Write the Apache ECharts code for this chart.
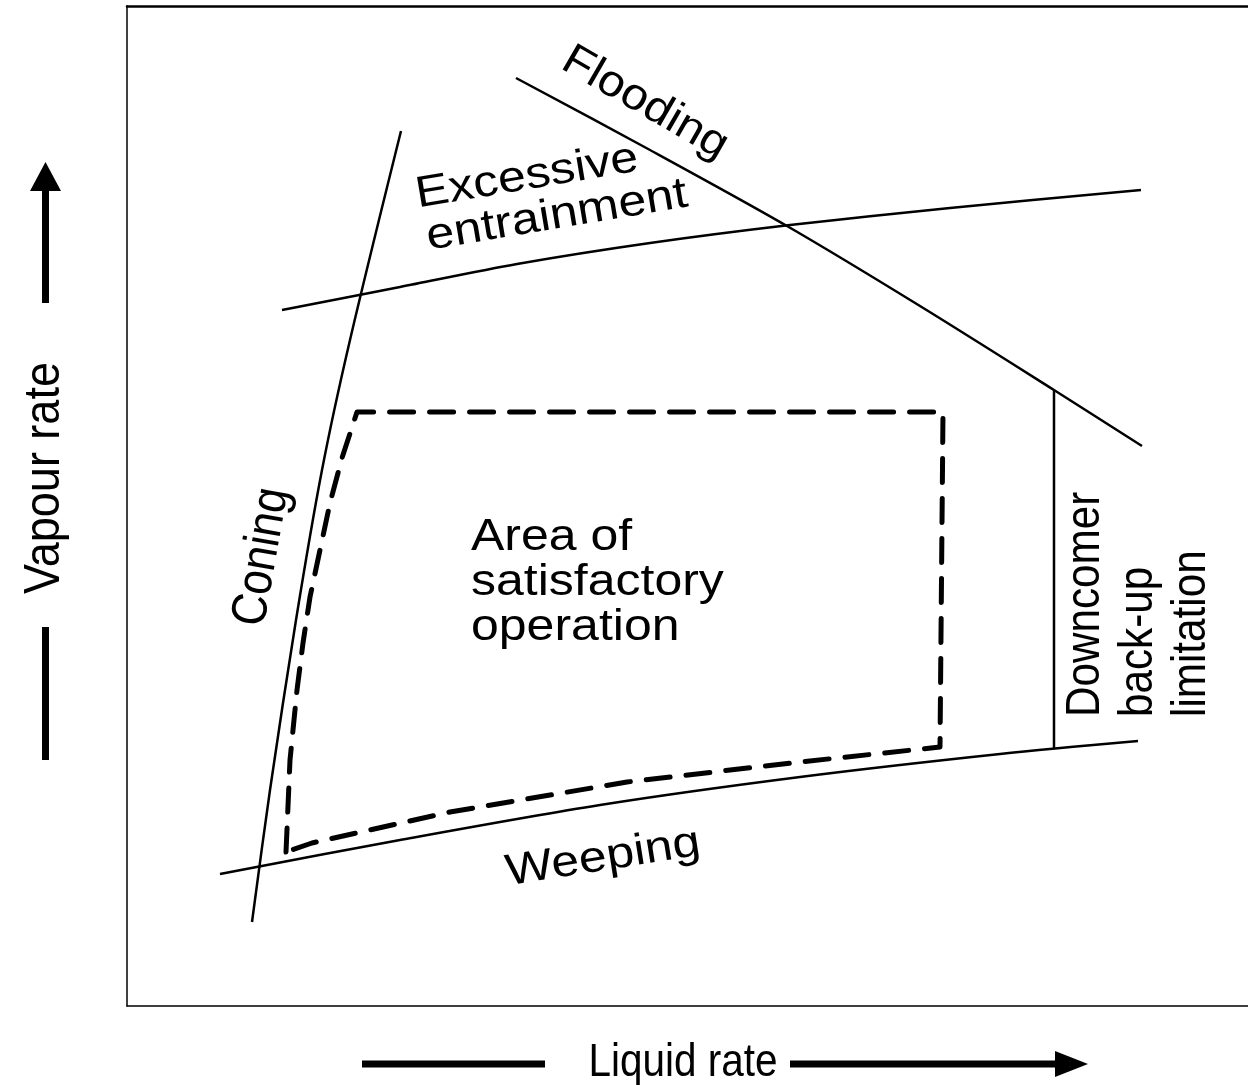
<!DOCTYPE html>
<html>
<head>
<meta charset="utf-8">
<script src="https://cdn.jsdelivr.net/npm/echarts@6/dist/echarts.min.js"></script>
<style>
html,body{margin:0;padding:0;background:#fff;}
#chart{width:1248px;height:1085px;}
</style>
</head>
<body>
<div id="chart"></div>
<script>
// ---- Data (arbitrary rate units: liquid rate 0..112, vapour rate 0..100) ----
const coningX = [12.5, 14.3, 16.9, 19.5, 22.3, 27.4];
const coningY = [8.4, 21.6, 38.6, 53.6, 66.6, 87.5];

const entrainX = [15.5, 27.3, 39.0, 52.3, 66.3, 82.3, 101.4];
const entrainY = [69.6, 71.9, 74.2, 76.3, 78.1, 79.8, 81.6];

const floodX = [38.9, 52.3, 66.0, 79.3, 92.7, 101.5];
const floodY = [92.8, 85.6, 78.0, 70.0, 61.6, 56.0];

const weepX = [9.3, 27.3, 47.3, 67.3, 87.3, 101.1];
const weepY = [13.2, 16.6, 20.1, 22.9, 25.2, 26.5];

const downcomerX = [92.7, 92.7];
const downcomerY = [25.7, 61.6];

const areaX = [15.9, 16.3, 17.0, 17.6, 18.3, 19.3, 20.3, 21.5, 23.0, 81.6, 81.3, 67.3, 50.0, 32.3, 18.5, 15.9];
const areaY = [15.4, 24.6, 31.6, 36.3, 40.9, 45.6, 50.3, 54.8, 59.4, 59.4, 25.9, 24.4, 22.4, 19.4, 16.3, 15.4];

const labelTexts = ['Flooding', 'Excessive', 'entrainment', 'Coning',
  'Area of\nsatisfactory\noperation', 'Weeping', 'Downcomer\nback-up\nlimitation'];
const labelX = [51.8, 40.0, 43.0, 13.5, 34.4, 47.6, 101.2];
const labelY = [90.3, 82.9, 79.0, 44.9, 42.3, 14.8, 28.9];

const xTitle = 'Liquid rate';
const yTitle = 'Vapour rate';

// ---- Chart ----
const chart = echarts.init(document.getElementById('chart'));
const pts = (xs, ys) => xs.map((x, i) => [x, ys[i]]);
const FONT = '"Liberation Sans", Arial, Helvetica, sans-serif';

function solid(name, xs, ys, smooth) {
  return {
    type: 'line', name: name, data: pts(xs, ys), symbol: 'none',
    smooth: smooth, lineStyle: { color: '#000', width: 2.5 }, z: 3, silent: true
  };
}

const axisHidden = { axisTick: { show: false }, axisLabel: { show: false }, splitLine: { show: false } };

chart.setOption({
  animation: false,
  backgroundColor: '#fff',
  grid: { left: 127, top: 6, right: 0, bottom: 79 },
  xAxis: [
    Object.assign({ type: 'value', min: 0, max: 112.1, position: 'bottom',
      axisLine: { show: true, onZero: false, lineStyle: { color: '#000', width: 1.5 } } }, axisHidden),
    Object.assign({ type: 'value', min: 0, max: 112.1, position: 'top',
      axisLine: { show: true, onZero: false, lineStyle: { color: '#000', width: 2.5 } } }, axisHidden)
  ],
  yAxis: [
    Object.assign({ type: 'value', min: 0, max: 100, position: 'left',
      axisLine: { show: true, onZero: false, lineStyle: { color: '#000', width: 1.5 } } }, axisHidden)
  ],
  series: [
    solid('Coning', coningX, coningY, 0.3),
    solid('Excessive entrainment', entrainX, entrainY, 0.3),
    solid('Flooding', floodX, floodY, 0.3),
    solid('Weeping', weepX, weepY, 0.3),
    solid('Downcomer back-up limitation', downcomerX, downcomerY, false),
    {
      type: 'line', name: 'Area of satisfactory operation', data: pts(areaX, areaY),
      symbol: 'none', smooth: false, z: 4, silent: true,
      lineStyle: { color: '#000', width: 5, type: [24, 16], cap: 'round', join: 'round' }
    }
  ]
});

// ---- Text annotations placed through the grid's coordinate system ----
const labelStyle = [
  { rot: -30, align: 'center', size: 48, sx: 1.0, sy: 0.92, lh: 50 },
  { rot: 9.5, align: 'center', size: 50, sx: 1.0, sy: 0.88, lh: 50 },
  { rot: 9.5, align: 'center', size: 50, sx: 1.0, sy: 0.88, lh: 50 },
  { rot: 80, align: 'center', size: 50, sx: 0.88, sy: 1.0, lh: 50 },
  { rot: 0, align: 'left', size: 50, sx: 1.0, sy: 0.88, lh: 51 },
  { rot: 9, align: 'center', size: 50, sx: 1.0, sy: 0.88, lh: 50 },
  { rot: 90, align: 'left', size: 48, sx: 0.88, sy: 1.0, lh: 53 }
];
const graphics = [];
labelTexts.forEach((t, i) => {
  const p = chart.convertToPixel({ gridIndex: 0 }, [labelX[i], labelY[i]]);
  const s = labelStyle[i];
  graphics.push({
    type: 'text', x: p[0], y: p[1], rotation: s.rot * Math.PI / 180,
    scaleX: s.sx, scaleY: s.sy, silent: true, z: 10,
    style: { text: t, fill: '#000', fontSize: s.size, fontFamily: FONT,
      align: s.align, verticalAlign: 'middle', lineHeight: s.lh }
  });
});

// Axis titles with arrows (outside the frame)
const black = { fill: '#000' };
graphics.push(
  { type: 'text', x: 45, y: 478, rotation: Math.PI / 2, scaleX: 0.9, silent: true,
    style: { text: yTitle, fill: '#000', fontSize: 50, fontFamily: FONT, align: 'center', verticalAlign: 'middle' } },
  { type: 'line', shape: { x1: 45.5, y1: 186, x2: 45.5, y2: 303 }, style: { stroke: '#000', lineWidth: 7 } },
  { type: 'line', shape: { x1: 45.5, y1: 627, x2: 45.5, y2: 760 }, style: { stroke: '#000', lineWidth: 7 } },
  { type: 'polygon', shape: { points: [[45.5, 162], [30, 191], [61, 191]] }, style: black },
  { type: 'text', x: 683, y: 1063, scaleX: 0.88, silent: true,
    style: { text: xTitle, fill: '#000', fontSize: 46, fontFamily: FONT, align: 'center', verticalAlign: 'middle' } },
  { type: 'line', shape: { x1: 362, y1: 1064, x2: 545, y2: 1064 }, style: { stroke: '#000', lineWidth: 7 } },
  { type: 'line', shape: { x1: 790, y1: 1064, x2: 1060, y2: 1064 }, style: { stroke: '#000', lineWidth: 7 } },
  { type: 'polygon', shape: { points: [[1088, 1064], [1055, 1051], [1055, 1077]] }, style: black }
);
chart.setOption({ graphic: graphics });
</script>
</body>
</html>
